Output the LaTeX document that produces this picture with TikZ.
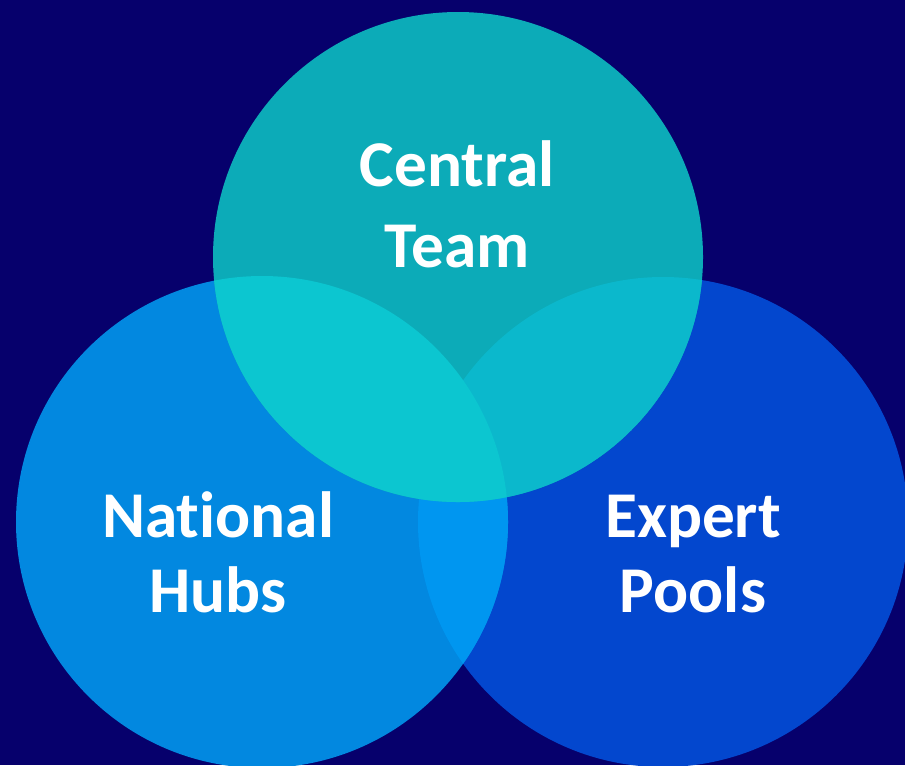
\documentclass[tikz,border=0pt]{standalone}
\usepackage{fontspec}
\setmainfont{Carlito}[Ligatures=NoCommon]
\usetikzlibrary{positioning}

\definecolor{navybg}{HTML}{06006C}
\definecolor{teamteal}{HTML}{0CABB8}
\definecolor{hubblue}{HTML}{0288E0}
\definecolor{poolblue}{HTML}{0347CE}
\definecolor{teamhub}{HTML}{0CC6D0}
\definecolor{teampool}{HTML}{0BB8CC}
\definecolor{hubpool}{HTML}{0096F0}

\tikzset{
  venntext/.style={font=\bfseries\fontsize{49}{56}\selectfont,text=white,align=center}
}

\begin{document}
\begin{tikzpicture}[x=0.75pt,y=-0.75pt]
\fill[navybg] (0,0) rectangle (905,765);
\useasboundingbox (0,0) rectangle (905,765);
% base circles
\fill[poolblue] (663,522) circle (245);
\fill[hubblue] (262,522) circle (246);
\fill[teamteal] (458,257) circle (245);
% overlaps
\begin{scope}
\clip (262,522) circle (246);
\fill[hubpool] (663,522) circle (245);
\end{scope}
\begin{scope}
\clip (458,257) circle (245);
\fill[teampool] (663,522) circle (245);
\fill[teamhub] (262,522) circle (246);
\end{scope}

\node[venntext,font=\bfseries\fontsize{49}{61}\selectfont] (team) at (457,204) {Central\\Team};
\node[venntext] (hubs) at (218,552) {National\\Hubs};
\node[venntext] (pools) at (693,554) {Expert\\Pools};
\end{tikzpicture}
\end{document}
